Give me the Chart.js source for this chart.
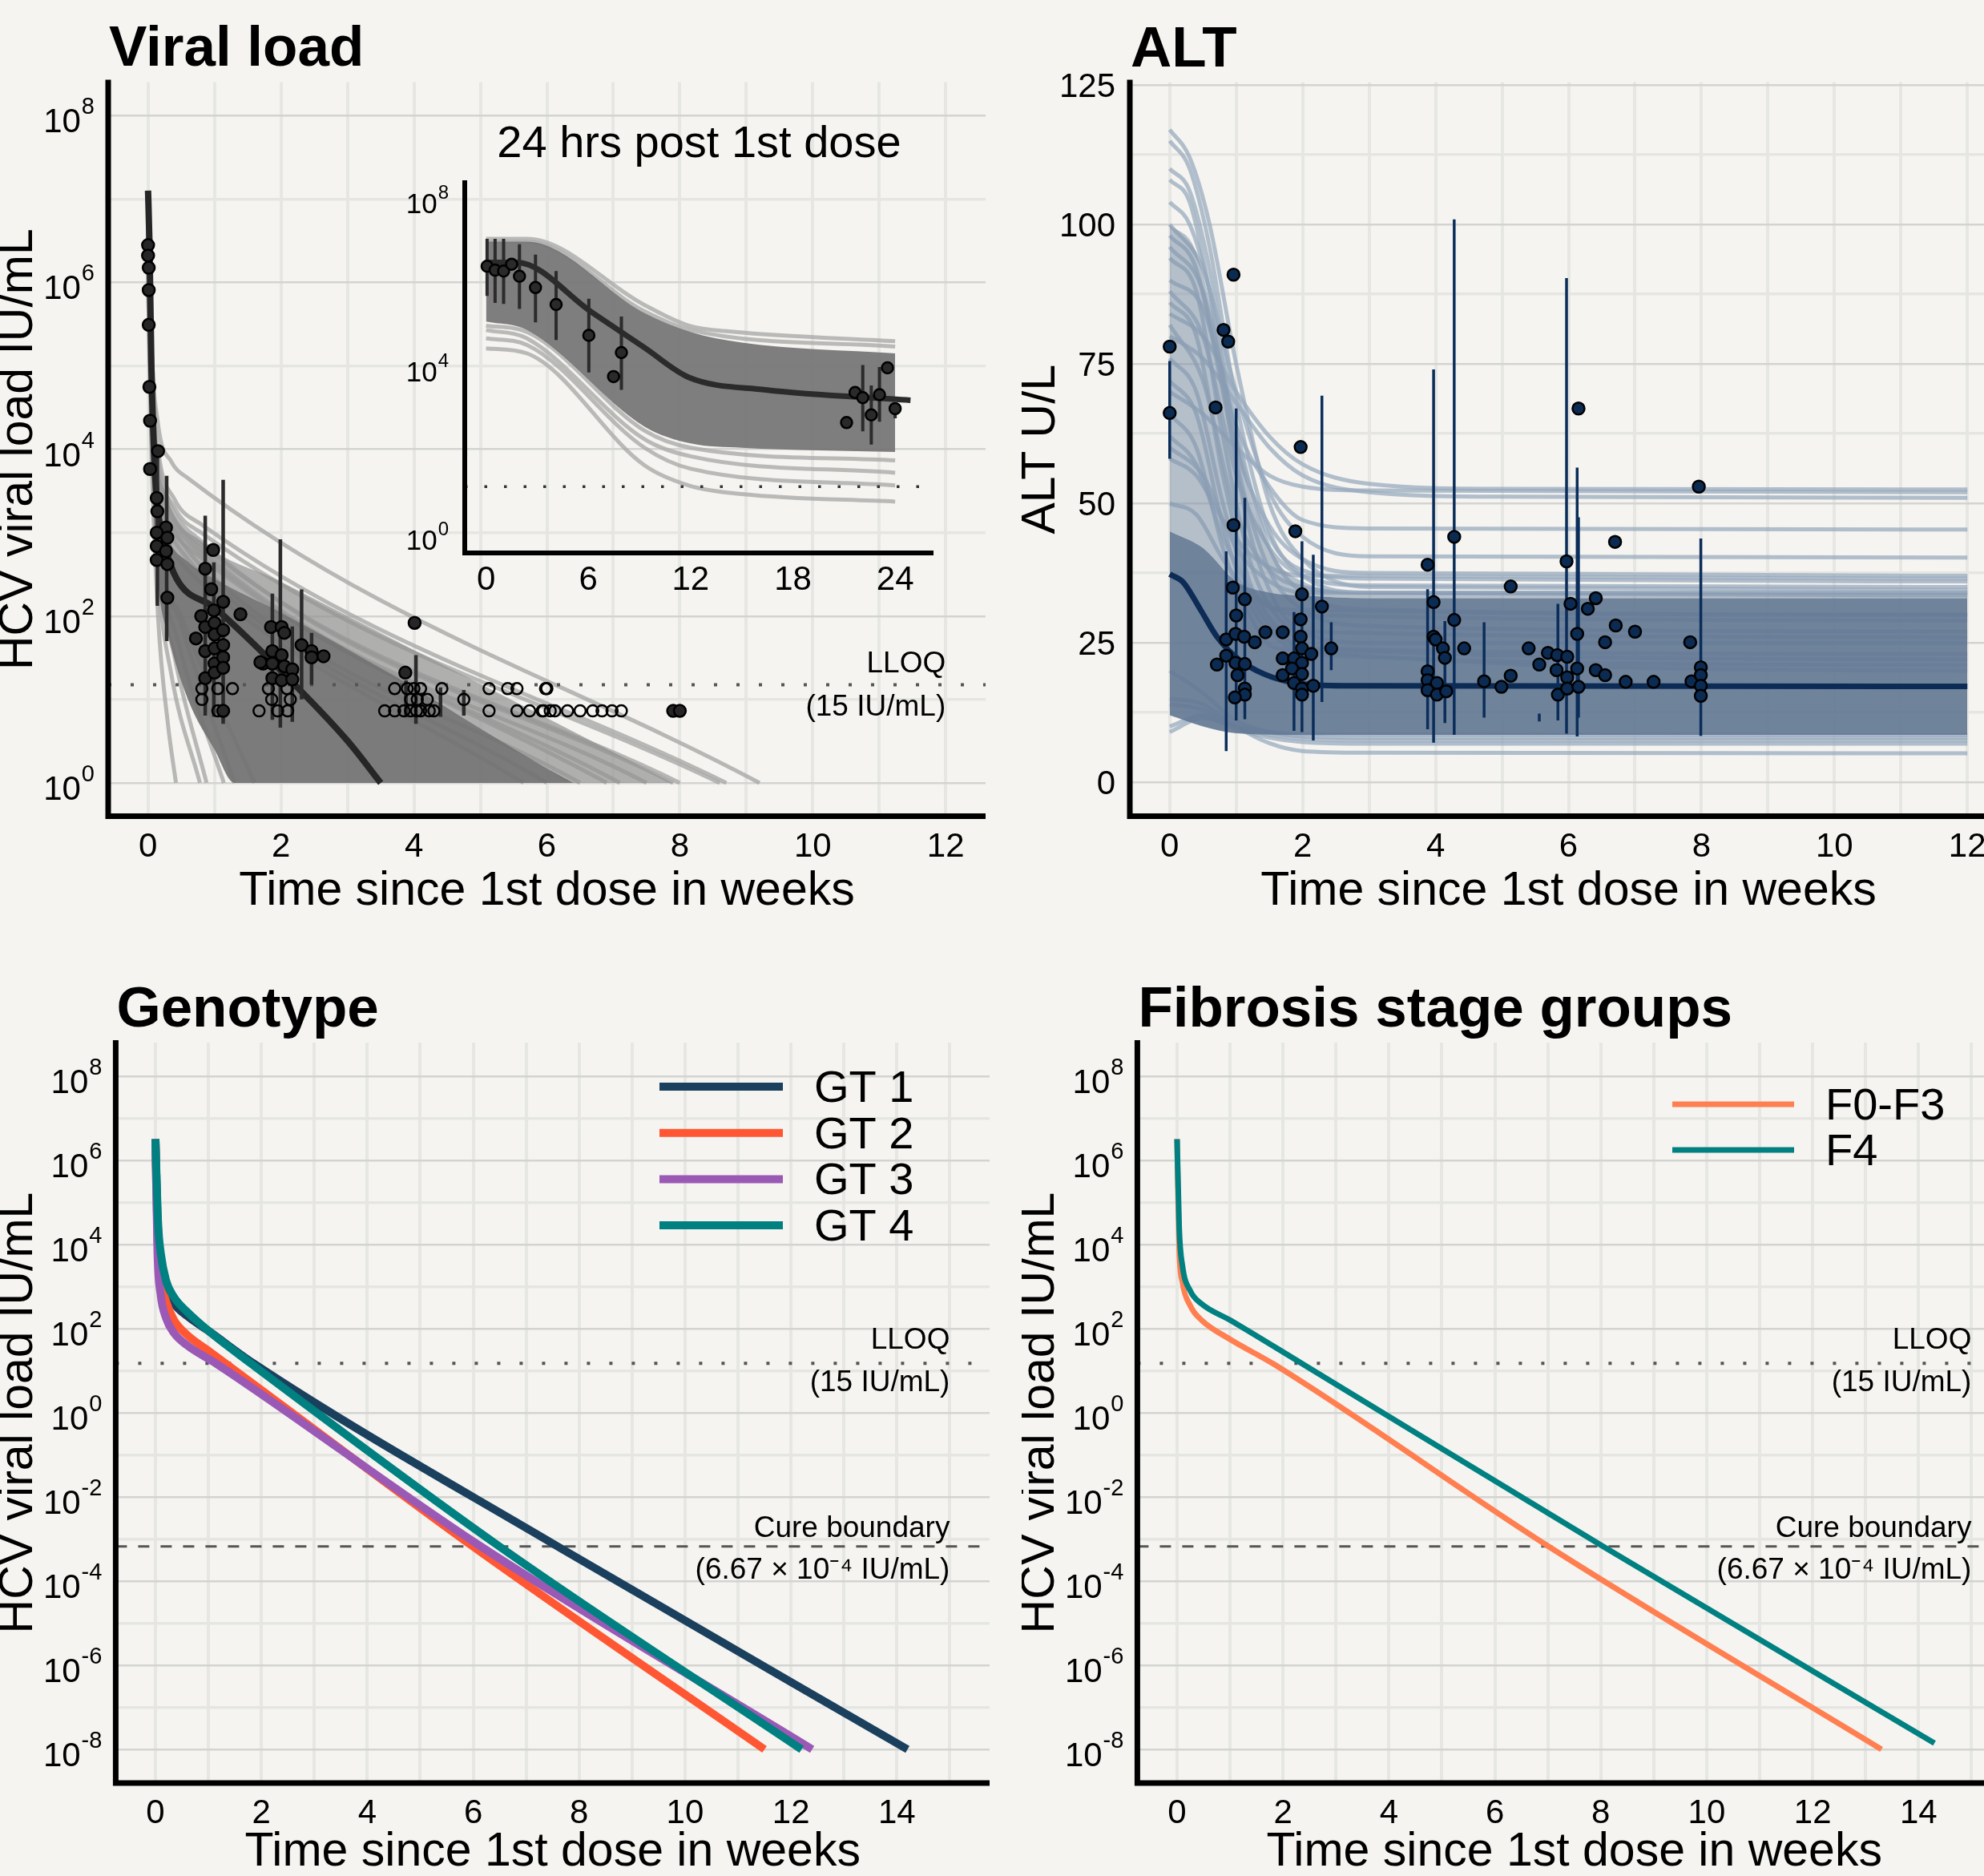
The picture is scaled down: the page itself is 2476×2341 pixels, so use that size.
<!DOCTYPE html>
<html>
<head>
<meta charset="utf-8">
<script src="https://cdn.jsdelivr.net/npm/chart.js@4.4.1/dist/chart.umd.min.js"></script>
<style>
  html, body { margin: 0; padding: 0; background: #f5f4f0; }
  #wrap { position: relative; width: 2476px; height: 2341px; overflow: hidden; background: #f5f4f0; }
  canvas { position: absolute; }
</style>
</head>
<body>
<div id="wrap">
  <canvas id="vl" width="1240" height="1180" style="left:0px;top:0px"></canvas>
  <canvas id="alt" width="1240" height="1180" style="left:1275px;top:0px"></canvas>
  <canvas id="gt" width="1240" height="1161" style="left:0px;top:1180px"></canvas>
  <canvas id="fib" width="1240" height="1161" style="left:1275px;top:1180px"></canvas>
  <canvas id="inset" width="700" height="640" style="left:500px;top:120px"></canvas>
</div>
<script>
"use strict";
const FONT = '"Liberation Sans", Arial, Helvetica, sans-serif';

// ---------- viral load panel (time in weeks, IU/mL) ----------
const vlDetT = [0.00, 0.00, 0.01, 0.01, 0.01, 0.02, 0.03, 0.15, 0.03, 0.13, 0.14, 0.27, 0.13, 0.29, 0.13, 0.27, 0.13, 0.29, 0.29,
  0.86, 0.98, 0.72, 0.80, 0.86, 0.86, 0.86, 0.95, 0.99, 1.00, 1.00, 1.00, 1.00, 1.00, 1.13, 1.13, 1.13, 1.13, 1.13, 1.39, 1.13,
  1.85, 2.01, 2.05, 1.87, 2.01, 1.73, 1.69, 1.87, 2.05, 2.17, 1.87, 2.01, 2.17, 2.31, 2.46, 2.46, 2.64,
  4.01, 3.87, 7.90, 8.00];
const vlDetV = [2.8e6, 2.1e6, 1.5e6, 8.1e5, 3.1e5, 5.6e4, 2.2e4, 9.5e3, 5.8e3, 2.6e3, 1.8e3, 1.15e3, 1.0e3, 870, 690, 600, 470, 420, 166,
  370, 620, 54, 100, 74, 38, 18, 210, 117, 83, 60, 41, 27, 21, 148, 68, 45, 32, 24, 105, 7.3,
  74, 74, 63, 38, 34, 27, 28, 27, 25, 23, 18, 17, 17.4, 45, 38, 32, 33,
  83, 21, 7.3, 7.3];
// below-LLOQ results (open circles), three reporting levels
const blqHigh = 13.5, blqMid = 10, blqLow = 7.3;
const blqHighT = [0.81, 1.05, 1.27, 1.81, 2.09, 3.71, 3.90, 4.00, 4.10, 4.42, 5.13, 5.41, 5.55, 5.98, 6.00];
const blqMidT = [0.81, 1.86, 2.14, 3.95, 4.05, 4.20, 4.75];
const blqLowT = [1.05, 1.67, 1.95, 2.10, 3.56, 3.71, 3.85, 3.95, 4.04, 4.10, 4.23, 4.30, 5.13, 5.55, 5.74, 5.93, 5.95,
  6.05, 6.12, 6.31, 6.50, 6.69, 6.83, 6.98, 7.12];
const vlErrT = [0.14, 0.28, 0.86, 0.99, 1.13, 1.87, 1.99, 2.17, 2.31, 2.46, 3.88, 4.03, 4.40, 4.75];
const vlErrLo = [133, 50, 6.4, 6.2, 5.1, 5.7, 4.6, 5.4, 10, 15, 6.2, 5.1, 6.2, 6.4];
const vlErrHi = [8.9e3, 4.8e3, 1.6e3, 440, 4.3e3, 186, 830, 75, 209, 63, 17, 34, 14, 13];
const vlMedian = [[0, 1.26e7], [0.02, 3.2e6], [0.05, 1e5], [0.1, 6.3e3], [0.15, 1.8e3], [0.25, 710], [0.43, 280],
  [1, 126], [2, 22], [3, 3.2], [3.5, 1]];
// dense core of the individual predictions
const vlCoreUpper = [[0, 1e7], [0.03, 3e5], [0.08, 1.5e4], [0.15, 3e3], [0.3, 900], [0.6, 450], [1, 280], [2, 110],
  [3, 40], [4, 14], [5, 4.5], [6, 1.5], [6.4, 1]];
const vlCoreLower = [[0, 3.2e6], [0.03, 3.2e4], [0.08, 2e3], [0.15, 250], [0.3, 60], [0.6, 10], [1, 2.5], [1.3, 1], [6.4, 1]];
// looser fringe above the core
const vlFringeUpper = [[0, 1e7], [0.05, 1e5], [0.1, 1.6e4], [0.3, 2.5e3], [0.8, 790], [2, 257], [4, 39], [6, 6], [7.9, 1]];
const vlFringeLower = [[0, 1e7], [0.03, 3e5], [0.08, 1.5e4], [0.15, 3e3], [0.3, 900], [0.6, 450], [1, 280], [2, 110],
  [3, 40], [4, 14], [5, 4.5], [6, 1.5], [6.4, 1], [7.9, 1]];
const vlLines = [
  [[0, 1e7], [0.05, 2e5], [0.15, 2e4], [0.35, 7.1e3], [0.6, 4.5e3], [9.2, 1]],
  [[0, 1e7], [0.05, 1e5], [0.15, 1e4], [0.4, 2.5e3], [0.8, 1.26e3], [8.7, 1]],
  [[0, 7.9e6], [0.05, 7.9e4], [0.15, 7.9e3], [0.4, 2e3], [0.8, 1e3], [8.6, 1]],
  [[0, 6.3e6], [0.1, 1.6e4], [0.3, 2.5e3], [0.8, 790], [7.9, 1]],
  [[0, 6.3e6], [0.1, 1.26e4], [0.3, 2e3], [0.8, 710], [8.0, 1]],
  [[0, 5e6], [0.1, 1e4], [0.3, 2e3], [0.8, 630], [7.5, 1]],
  [[0, 5e6], [0.1, 7.9e3], [0.3, 1.6e3], [0.8, 560], [7.1, 1]],
  [[0, 4e6], [0.1, 6.3e3], [0.3, 1.26e3], [0.8, 500], [6.9, 1]],
  [[0, 4e6], [0.1, 6.3e3], [0.3, 1.4e3], [0.8, 400], [6.5, 1]],
  [[0, 3.2e6], [0.1, 4e3], [0.3, 1e3], [0.8, 320], [6.0, 1]],
  [[0, 3.2e6], [0.1, 3e3], [0.3, 700], [0.8, 250], [5.65, 1]],
  [[0, 1e6], [0.05, 1e4], [0.15, 100], [0.3, 5], [0.42, 1]],
  [[0, 1e6], [0.05, 1.6e4], [0.15, 320], [0.35, 20], [0.78, 1]],
  [[0, 1.6e6], [0.05, 2e4], [0.15, 500], [0.4, 32], [0.88, 1]],
  [[0, 1.6e6], [0.05, 2.5e4], [0.15, 790], [0.45, 50], [1.14, 1]],
  [[0, 2e6], [0.05, 3.2e4], [0.15, 1e3], [0.5, 79], [1.3, 1]],
  [[0, 2e6], [0.05, 3.2e4], [0.15, 1e3], [0.5, 100], [1.6, 1]]
];
const lloq = 15;
const cureBoundary = 6.67e-4;

// ---------- inset: first 24 hours (time in hours) ----------
const inT = [0.06, 0.53, 1.03, 1.5, 1.96, 2.9, 4.11, 6.03, 7.48, 7.94, 21.15, 21.65, 22.1, 22.6, 23.08, 23.55, 24.0];
const inV = [2.6e6, 2.1e6, 2.0e6, 2.9e6, 1.5e6, 8.1e5, 3.2e5, 5.9e4, 6.2e3, 2.3e4, 500, 2.6e3, 1.95e3, 760, 2.3e3, 1.0e4, 1.07e3];
const inErrT = [0.06, 0.53, 1.03, 1.96, 2.9, 4.11, 6.03, 7.94, 22.1, 22.6, 23.08, 24.0];
const inErrLo = [5.1e5, 3.5e5, 3.3e5, 2.5e5, 1.2e5, 4.6e4, 7.8e3, 3.0e3, 310, 150, 525, 630];
const inErrHi = [1.17e7, 1.17e7, 1.17e7, 8.7e6, 4.9e6, 2.0e6, 4.4e5, 1.66e5, 1.17e4, 3.8e3, 1.05e4, 1.4e3];
const inMedian = [[0, 3.2e6], [1.8, 3.2e6], [6.2, 2.1e5], [9.3, 3e4], [11.9, 5.9e3], [16.4, 3e3], [24.9, 1.7e3]];
const inBandUpper = [[0, 1e7], [2.4, 1e7], [9.3, 2e5], [12, 7.1e4], [15, 4e4], [24, 2.2e4]];
const inBandLower = [[0, 1.26e5], [2.4, 7.9e4], [9.3, 400], [12, 160], [15, 126], [24, 100]];
const inLines = [
  [[0, 1.17e7], [2.4, 1.17e7], [9.3, 3.1e5], [11.9, 1e5], [14.5, 7.2e4], [24, 4.3e4]],
  [[0, 1e7], [2.4, 1e7], [9.3, 2.2e5], [12, 7.9e4], [24, 3.2e4]],
  [[0, 2.9e4], [2.4, 2.2e4], [9.3, 48], [11.9, 16], [15, 10], [24, 6.6]],
  [[0, 5e4], [2.4, 3.5e4], [9.3, 126], [12, 40], [24, 16]],
  [[0, 7.9e4], [2.4, 5e4], [9.3, 200], [12, 79], [24, 32]],
  [[0, 1e5], [2.4, 7.1e4], [9.3, 320], [12, 126], [24, 63]]
];

// ---------- ALT panel (time in weeks, U/L) ----------
const altT = [0, 0, 0.69, 0.81, 0.88, 0.96, 0.96, 0.95, 1.0, 0.85, 0.99, 1.12, 1.13, 1.28, 1.44, 0.71, 0.85, 0.99, 1.13, 1.02, 1.13, 1.13, 0.98,
  1.70, 1.70, 1.70, 1.89, 1.97, 1.99, 1.97, 1.97, 1.99, 1.87, 1.99, 1.84, 1.99, 1.87, 1.99, 1.99, 2.13, 2.16, 2.29, 2.43,
  3.88, 3.97, 3.97, 4.0, 3.88, 3.88, 3.97, 4.02, 3.88, 4.02, 4.11, 4.14, 4.16, 4.28, 4.28, 4.43, 4.73, 4.99, 5.13, 5.13,
  5.4, 5.56, 5.69, 5.83, 5.82, 5.84, 5.97, 5.98, 5.98, 5.98, 6.03, 6.13, 6.13, 6.15, 6.15, 6.29, 6.41, 6.41, 6.55, 6.55, 6.70, 6.71, 6.86, 7.0, 7.28,
  7.83, 7.85, 7.96, 7.99, 7.99, 7.99, 7.99];
const altV = [78.1, 66.2, 67.2, 81.1, 79.0, 91.0, 46.1, 34.9, 29.9, 25.6, 26.6, 26.1, 32.8, 25.1, 26.9, 21.1, 22.7, 21.4, 21.2, 19.2, 16.8, 15.7, 15.2,
  26.9, 22.2, 19.2, 45.0, 60.1, 33.7, 29.2, 26.1, 24.0, 22.2, 21.4, 20.4, 19.4, 17.8, 16.8, 15.7, 23.0, 17.3, 31.5, 24.0,
  39.0, 32.3, 26.1, 25.6, 19.9, 18.3, 16.8, 17.8, 16.5, 15.7, 24.0, 22.3, 16.3, 44.0, 29.1, 24.0, 18.1, 17.1, 19.1, 35.1,
  24.0, 21.1, 23.2, 22.8, 20.1, 15.7, 39.6, 22.5, 18.8, 16.8, 32.0, 26.6, 20.4, 17.1, 67.0, 31.1, 33.0, 20.1, 25.1, 19.2, 43.1, 28.1, 18.0, 27.0, 18.0,
  25.1, 18.1, 53.0, 20.6, 19.2, 17.3, 15.5];
const altErrT = [0, 0.85, 1.0, 1.13, 1.87, 1.99, 2.16, 2.29, 2.43, 3.88, 3.97, 4.14, 4.28, 4.73, 5.56, 5.84, 5.97, 6.13, 6.15, 7.99];
const altErrLo = [58, 5.6, 11.1, 11.3, 9.2, 9.0, 7.5, 14.4, 20.1, 9.5, 7.1, 10.6, 8.5, 11.6, 10.9, 11.1, 8.7, 8.2, 11.6, 8.3];
const altErrHi = [75.5, 41.4, 67, 51, 30.5, 43.2, 40.8, 69.3, 28.7, 34.6, 74, 28.9, 100.9, 28.7, 12.3, 32, 90.4, 56.4, 47.5, 43.7];
const altMedian = [[0, 37.3], [0.2, 35.9], [0.47, 30.8], [0.71, 26.1], [1.04, 22], [1.42, 19.4], [1.89, 17.8], [2.65, 17.3], [12, 17.2]];
const altCoreUpper = [[0, 45], [0.5, 42], [1, 36], [1.5, 34], [2, 33.5], [3, 33], [12, 33]];
const altCoreLower = [[0, 12], [0.5, 10], [1, 8.8], [2, 8.5], [12, 8.5]];
const altFringeUpper = [[0, 100], [0.4, 95], [0.8, 75], [1.2, 52], [1.6, 40], [2, 36], [3, 34], [12, 34]];
const altFringeLower = [[0, 45], [0.5, 42], [1, 36], [1.5, 34], [2, 33.5], [3, 33], [12, 33]];
const altLines = [
  [[0, 117], [0.3, 112], [0.6, 100], [1, 75], [1.5, 50], [2, 40], [3, 35], [12, 34.5]],
  [[0, 115], [0.3, 110], [0.6, 96], [1, 68], [1.5, 45], [2, 37], [3, 34], [12, 34]],
  [[0, 110], [0.3, 106], [0.6, 92], [1, 64], [1.5, 42], [2, 34], [3, 31], [12, 30]],
  [[0, 108], [0.3, 104], [0.6, 88], [1, 58], [1.5, 38], [2, 31], [3, 28], [12, 27]],
  [[0, 104], [0.3, 100], [0.6, 88], [1, 62], [1.5, 44], [2, 38], [3, 36.5], [12, 36]],
  [[0, 100], [0.5, 92], [1, 70], [1.5, 52], [2, 44], [3, 40.5], [12, 40.3]],
  [[0, 98], [0.4, 92], [0.8, 70], [1.2, 45], [1.6, 32], [2, 27], [3, 25], [12, 25]],
  [[0, 96], [0.5, 88], [1, 60], [1.5, 46], [2, 40], [3, 37.5], [12, 37]],
  [[0, 94], [0.4, 88], [0.8, 62], [1.2, 40], [1.6, 30], [2, 27], [12, 26]],
  [[0, 90], [0.5, 85], [1, 64], [1.5, 53], [2, 47], [3, 45.5], [12, 45.3]],
  [[0, 88], [0.5, 80], [1, 55], [1.5, 42], [2, 37], [3, 35.3], [12, 35]],
  [[0, 86], [0.4, 80], [0.8, 55], [1.2, 36], [1.6, 28], [2, 24], [12, 23]],
  [[0, 84], [0.5, 80], [1, 70], [1.5, 62], [2, 57], [3, 53.5], [5, 52.6], [12, 52.5]],
  [[0, 82], [0.5, 72], [1, 48], [1.5, 38], [2, 35], [3, 34], [12, 34]],
  [[0, 80], [0.5, 76], [1, 68], [1.5, 60], [2, 55], [3, 52], [5, 51.2], [12, 51]],
  [[0, 76], [0.4, 70], [0.8, 50], [1.2, 34], [1.6, 27], [2, 24], [12, 22]],
  [[0, 72], [0.4, 66], [0.8, 46], [1.2, 32], [1.6, 26], [2, 23], [12, 21]],
  [[0, 70], [0.5, 66], [1, 60], [1.5, 55], [2, 53], [3, 52.3], [12, 52]],
  [[0, 66], [0.4, 60], [0.8, 42], [1.2, 30], [1.6, 24], [12, 20]],
  [[0, 62], [0.4, 57], [0.8, 44], [1.2, 35], [1.6, 31], [2, 30], [12, 29]],
  [[0, 60], [0.5, 55], [1, 42], [1.5, 36], [2, 34], [12, 33.5]],
  [[0, 58], [0.4, 55], [0.8, 47], [1.2, 41], [1.6, 38], [2, 37], [12, 36.5]],
  [[0, 50], [0.4, 48], [0.8, 40], [1.2, 34], [1.6, 31], [12, 30]],
  [[0, 15], [0.5, 14], [1, 10], [1.5, 7], [2, 5.6], [3, 5.3], [12, 5.2]],
  [[0, 10], [0.5, 12], [1, 9.5], [2, 7.2], [3, 6.9], [12, 6.9]],
  [[0, 9], [0.5, 11.5], [1, 10], [2, 8.2], [3, 8], [12, 8]],
  [[0, 14], [0.5, 13], [1, 10], [2, 7.8], [3, 7.5], [12, 7.5]],
  [[0, 20], [0.5, 16], [1, 11], [2, 8.6], [12, 8.5]]
];

// ---------- genotype / fibrosis typical profiles (weeks, IU/mL) ----------
const gt1 = [[0, 3.2e6], [0.04, 4.0e4], [0.1, 4.0e3], [0.2, 1.0e3], [0.35, 400], [0.6, 200], [1, 89], [1.85, 15], [7.6, 6.6e-4], [14.2, 1e-8]];
const gt2 = [[0, 3.2e6], [0.04, 1.26e4], [0.1, 1.6e3], [0.2, 450], [0.35, 160], [0.6, 71], [1, 30], [2, 3.5], [6.0, 6.6e-4], [11.5, 1e-8]];
const gt3 = [[0, 3.2e6], [0.04, 6.3e3], [0.1, 630], [0.2, 180], [0.35, 79], [0.6, 40], [1.14, 15], [6.15, 6.6e-4], [12.4, 1e-8]];
const gt4 = [[0, 3.2e6], [0.05, 3.2e4], [0.1, 6.3e3], [0.2, 1.4e3], [0.35, 560], [0.6, 250], [1, 89], [1.8, 15], [6.5, 6.6e-4], [12.2, 1e-8]];
const fibF0F3 = [[0, 3.2e6], [0.04, 7.9e3], [0.1, 1.3e3], [0.25, 350], [0.46, 160], [1, 56], [1.84, 14], [7.02, 6.6e-4], [13.3, 1e-8]];
const fibF4 = [[0, 3.2e6], [0.04, 2.5e4], [0.1, 3.2e3], [0.25, 790], [0.46, 390], [1, 160], [2.35, 15], [8.05, 6.6e-4], [14.3, 1.4e-8]];
const gtNames = ["GT 1", "GT 2", "GT 3", "GT 4"];
const gtColors = ["#1a405e", "#ff5733", "#9b59b6", "#008080"];
const fibNames = ["F0-F3", "F4"];
const fibColors = ["#ff7f50", "#008080"];

// ---------- ticks ----------
const weeks12 = [0, 1, 2, 3, 4, 5, 6, 7, 8, 9, 10, 11, 12];
const weeks15 = [0, 1, 2, 3, 4, 5, 6, 7, 8, 9, 10, 11, 12, 13, 14, 15];
const vlDecades = [1, 10, 100, 1e3, 1e4, 1e5, 1e6, 1e7, 1e8];
const gtDecades = [1e-8, 1e-7, 1e-6, 1e-5, 1e-4, 1e-3, 1e-2, 1e-1, 1, 10, 100, 1e3, 1e4, 1e5, 1e6, 1e7, 1e8];
const altTicks = [0, 12.5, 25, 37.5, 50, 62.5, 75, 87.5, 100, 112.5, 125];
const vlExpLabels = [0, 2, 4, 6, 8];
const insetExpLabels = [0, 4, 8];
const gtExpLabels = [-8, -6, -4, -2, 0, 2, 4, 6, 8];
const altLabels = [0, 25, 50, 75, 100, 125];
const weekLabels12 = [0, 2, 4, 6, 8, 10, 12];
const weekLabels14 = [0, 2, 4, 6, 8, 10, 12, 14];
const hourLabels = [0, 6, 12, 18, 24];

// ---------- dataset helpers ----------
const pts = arr => arr.map(p => ({ x: p[0], y: p[1] }));
const zipPts = (xs, ys) => xs.map((x, i) => ({ x: x, y: ys[i] }));
const rowPts = (xs, v) => xs.map(x => ({ x: x, y: v }));
const errPts = (t, lo, hi) => {
  const d = [];
  t.forEach((x, i) => { d.push({ x: x, y: lo[i] }, { x: x, y: hi[i] }, { x: x, y: null }); });
  return d;
};

function curve(data, color, width, order) {
  return { data: pts(data), borderColor: color, borderWidth: width, pointRadius: 0, fill: false,
    cubicInterpolationMode: "monotone", order: order };
}
function band(upper, lower, color, order) {
  return [
    { data: pts(upper), borderColor: "rgba(0,0,0,0)", borderWidth: 1, backgroundColor: color, fill: "+1",
      pointRadius: 0, cubicInterpolationMode: "monotone", order: order },
    { data: pts(lower), borderColor: "rgba(0,0,0,0)", borderWidth: 1, pointRadius: 0, fill: false,
      cubicInterpolationMode: "monotone", order: order }
  ];
}
function hline(x0, x1, v, color, width, dash, order) {
  return { data: [{ x: x0, y: v }, { x: x1, y: v }], borderColor: color, borderWidth: width, borderDash: dash,
    pointRadius: 0, fill: false, order: order };
}
function errs(data, color, width, order) {
  return { data: data, borderColor: color, borderWidth: width, pointRadius: 0, fill: false, tension: 0, spanGaps: false, order: order };
}
function dots(data, fillColor, edge, r, order) {
  return { data: data, showLine: false, pointRadius: r, pointBackgroundColor: fillColor, pointBorderColor: edge,
    pointBorderWidth: 2.5, order: order };
}

// ---------- text, tick labels, axis lines ----------
const decorCfg = {};
const decor = {
  id: "decor",
  afterDraw(chart) {
    const o = decorCfg[chart.canvas.id];
    if (!o) return;
    const ctx = chart.ctx, a = chart.chartArea;
    const xs = chart.scales.x, ys = chart.scales.y;
    const f = (size, bold) => (bold ? "bold " : "") + size + "px " + FONT;
    ctx.save();
    ctx.fillStyle = "#000";
    ctx.textBaseline = "alphabetic";

    ctx.strokeStyle = "#000";
    ctx.lineWidth = o.axisW;
    ctx.lineJoin = "miter";
    ctx.lineCap = "butt";
    ctx.beginPath();
    ctx.moveTo(a.left, a.top - 3);
    ctx.lineTo(a.left, a.bottom);
    ctx.lineTo(a.right, a.bottom);
    ctx.stroke();

    ctx.font = f(o.xSize);
    ctx.textAlign = "center";
    o.xLabels.forEach(v => ctx.fillText(String(v), xs.getPixelForValue(v), a.bottom + o.xDy));

    ctx.textAlign = "right";
    const right = a.left - o.yGap;
    o.yLabels.forEach(v => {
      if (o.yLog) {
        const y = ys.getPixelForValue(Math.pow(10, v));
        const sup = String(v);
        ctx.font = f(o.supSize);
        const w = ctx.measureText(sup).width;
        ctx.fillText(sup, right, y + o.supDy);
        ctx.font = f(o.ySize);
        ctx.fillText("10", right - w - 1, y + o.baseDy);
      } else {
        const y = ys.getPixelForValue(v);
        ctx.font = f(o.ySize);
        ctx.fillText(String(v), right, y + o.baseDy);
      }
    });

    if (o.title) {
      ctx.font = f(o.titleSize, o.titleBold);
      ctx.textAlign = o.titleAlign || "left";
      const tx = o.titleAlign === "center" ? (a.left + a.right) / 2 : a.left + 1;
      ctx.fillText(o.title, tx, o.titleY);
    }
    if (o.xTitle) {
      ctx.font = f(o.axisSize);
      ctx.textAlign = "center";
      ctx.fillText(o.xTitle, (a.left + a.right) / 2, a.bottom + o.xTitleDy);
    }
    if (o.yTitle) {
      ctx.save();
      ctx.translate(o.yTitleX, (a.top + a.bottom) / 2);
      ctx.rotate(-Math.PI / 2);
      ctx.font = f(o.axisSize);
      ctx.textAlign = "center";
      ctx.fillText(o.yTitle, 0, 0);
      ctx.restore();
    }
    (o.notes || []).forEach(n => {
      ctx.font = f(n.size);
      ctx.textAlign = "right";
      ctx.fillText(n.text, xs.getPixelForValue(n.x), ys.getPixelForValue(n.y) + n.dy);
    });
    if (o.legend) {
      const L = o.legend;
      L.names.forEach((name, i) => {
        const y = L.y + i * L.step;
        ctx.strokeStyle = L.colors[i];
        ctx.lineWidth = L.width;
        ctx.beginPath();
        ctx.moveTo(L.x0, y);
        ctx.lineTo(L.x1, y);
        ctx.stroke();
        ctx.font = f(L.size);
        ctx.textAlign = "left";
        ctx.fillText(name, L.tx, y + L.dy);
      });
    }
    ctx.restore();
  }
};
Chart.register(decor);

const isEvenDecade = v => Math.abs(Math.round(Math.log10(v))) % 2 === 0;

function makeChart(id, datasets, c) {
  const xGrid = c.grid ? { drawTicks: false, color: "#e6e6e3", lineWidth: 4 } : { display: false };
  const yGrid = c.grid ? {
    drawTicks: false,
    color: g => (g.tick && c.yMajor(g.tick.value)) ? "#d3d3d1" : "#e5e5e2",
    lineWidth: g => (g.tick && c.yMajor(g.tick.value)) ? 2.5 : 3.5
  } : { display: false };
  return new Chart(document.getElementById(id), {
    type: "line",
    data: { datasets: datasets },
    options: {
      responsive: false, animation: false, devicePixelRatio: 1, events: [],
      layout: { padding: c.pad },
      plugins: { legend: { display: false }, tooltip: { enabled: false } },
      scales: {
        x: {
          type: "linear", min: c.xMin, max: c.xMax,
          afterBuildTicks: s => { s.ticks = c.xTicks.map(v => ({ value: v })); },
          afterFit: s => { s.height = 0; },
          ticks: { display: false, autoSkip: false },
          border: { display: false },
          grid: xGrid
        },
        y: {
          type: c.yLog ? "logarithmic" : "linear", min: c.yMin, max: c.yMax,
          afterBuildTicks: s => { s.ticks = c.yTicks.map(v => ({ value: v })); },
          afterFit: s => { s.width = 0; },
          ticks: { display: false, autoSkip: false },
          border: { display: false },
          grid: yGrid
        }
      }
    }
  });
}

// ---------- panel: viral load ----------
const padTop = { left: 135, top: 102.6, right: 5.4, bottom: 161.4 };
const padBottom = { left: 144.4, top: 121, right: 5, bottom: 116 };

decorCfg.vl = {
  axisW: 7, xLabels: weekLabels12, xSize: 42, xDy: 50,
  yLabels: vlExpLabels, yLog: true, ySize: 42, supSize: 29, yGap: 17, baseDy: 21, supDy: -2,
  title: "Viral load", titleSize: 71, titleBold: true, titleY: 82,
  xTitle: "Time since 1st dose in weeks", xTitleDy: 110, axisSize: 59,
  yTitle: "HCV viral load IU/mL", yTitleX: 40,
  notes: [
    { text: "LLOQ", x: 12, y: lloq, dy: -16, size: 37 },
    { text: "(15 IU/mL)", x: 12, y: lloq, dy: 38, size: 37 }
  ]
};
makeChart("vl", [
  dots(zipPts(vlDetT, vlDetV), "#262626", "#000", 7.5, 0),
  dots([...rowPts(blqHighT, blqHigh), ...rowPts(blqMidT, blqMid), ...rowPts(blqLowT, blqLow)], "rgba(0,0,0,0)", "#000", 7, 0),
  errs(errPts(vlErrT, vlErrLo, vlErrHi), "#2b2b2b", 4.5, 1),
  hline(-0.6, 12.6, lloq, "#555", 4, [4, 24], 2),
  curve(vlMedian, "#262626", 8, 3),
  ...band(vlCoreUpper, vlCoreLower, "rgba(115,115,115,0.94)", 4),
  ...band(vlFringeUpper, vlFringeLower, "rgba(145,145,145,0.7)", 5),
  ...vlLines.map(l => curve(l, "rgba(165,165,165,0.78)", 5, 6))
], { pad: padTop, xMin: -0.6, xMax: 12.6, xTicks: weeks12, yLog: true, yMin: 10 ** -0.4, yMax: 10 ** 8.4,
     yTicks: vlDecades, yMajor: isEvenDecade, grid: true });

// ---------- inset: 24 hours ----------
decorCfg.inset = {
  axisW: 6, xLabels: hourLabels, xSize: 42, xDy: 46,
  yLabels: insetExpLabels, yLog: true, ySize: 35, supSize: 24, yGap: 20, baseDy: 17, supDy: -1,
  title: "24 hrs post 1st dose", titleSize: 56, titleBold: false, titleAlign: "center", titleY: 76
};
makeChart("inset", [
  dots(zipPts(inT, inV), "#2a2a2a", "#000", 7, 0),
  errs(errPts(inErrT, inErrLo, inErrHi), "#2b2b2b", 4, 1),
  hline(-1.25, 26.25, lloq, "#333", 3.5, [3.5, 21], 2),
  curve(inMedian, "#2b2b2b", 7, 3),
  ...band(inBandUpper, inBandLower, "rgba(118,118,118,0.94)", 4),
  ...inLines.map(l => curve(l, "rgba(170,170,170,0.8)", 5, 5))
], { pad: { left: 80, top: 108, right: 35, bottom: 70 }, xMin: -1.25, xMax: 26.25, xTicks: hourLabels,
     yLog: true, yMin: 10 ** -0.4, yMax: 10 ** 8.4, yTicks: vlDecades, yMajor: isEvenDecade, grid: false });

// ---------- panel: ALT ----------
decorCfg.alt = {
  axisW: 7, xLabels: weekLabels12, xSize: 42, xDy: 50,
  yLabels: altLabels, yLog: false, ySize: 42, yGap: 18, baseDy: 15,
  title: "ALT", titleSize: 71, titleBold: true, titleY: 83,
  xTitle: "Time since 1st dose in weeks", xTitleDy: 110, axisSize: 59,
  yTitle: "ALT U/L", yTitleX: 41
};
makeChart("alt", [
  dots(zipPts(altT, altV), "#0b2b52", "#000", 7.5, 0),
  errs(errPts(altErrT, altErrLo, altErrHi), "#0b2d5a", 3.5, 1),
  curve(altMedian, "#0c2c55", 7, 2),
  ...band(altCoreUpper, altCoreLower, "rgba(100,122,148,0.93)", 3),
  ...band(altFringeUpper, altFringeLower, "rgba(128,148,172,0.55)", 4),
  ...altLines.map(l => curve(l, "rgba(150,168,188,0.72)", 5, 5))
], { pad: padTop, xMin: -0.6, xMax: 12.6, xTicks: weeks12, yLog: false, yMin: -6.1, yMax: 125.5,
     yTicks: altTicks, yMajor: v => v % 25 === 0, grid: true });

// ---------- panels: genotype and fibrosis ----------
const cureNotes = [
  { text: "LLOQ", x: 15, y: lloq, dy: -18, size: 37 },
  { text: "(15 IU/mL)", x: 15, y: lloq, dy: 35, size: 37 },
  { text: "Cure boundary", x: 15, y: cureBoundary, dy: -12, size: 37 },
  { text: "(6.67 \u00d7 10\u207b\u2074 IU/mL)", x: 15, y: cureBoundary, dy: 40, size: 37 }
];
const bottomScale = { pad: padBottom, xMin: -0.75, xMax: 15.75, xTicks: weeks15, yLog: true,
  yMin: 10 ** -8.8, yMax: 10 ** 8.8, yTicks: gtDecades, yMajor: isEvenDecade, grid: true };

decorCfg.gt = {
  axisW: 7, xLabels: weekLabels14, xSize: 42, xDy: 50,
  yLabels: gtExpLabels, yLog: true, ySize: 42, supSize: 29, yGap: 17, baseDy: 21, supDy: -2,
  title: "Genotype", titleSize: 71, titleBold: true, titleY: 101,
  xTitle: "Time since 1st dose in weeks", xTitleDy: 103, axisSize: 59,
  yTitle: "HCV viral load IU/mL", yTitleX: 40,
  notes: cureNotes,
  legend: { names: gtNames, colors: gtColors, x0: 823, x1: 977, y: 176, step: 57.7, width: 10, tx: 1016, dy: 19, size: 56 }
};
makeChart("gt", [
  curve(gt4, gtColors[3], 10, 0),
  curve(gt3, gtColors[2], 10, 1),
  curve(gt2, gtColors[1], 10, 2),
  curve(gt1, gtColors[0], 10, 3),
  hline(-0.75, 15.75, lloq, "#555", 4, [4, 24], 4),
  hline(-0.75, 15.75, cureBoundary, "#555", 3, [14, 14], 4)
], bottomScale);

decorCfg.fib = Object.assign({}, decorCfg.gt, {
  title: "Fibrosis stage groups",
  legend: { names: fibNames, colors: fibColors, x0: 812, x1: 964, y: 198, step: 57, width: 7, tx: 1003, dy: 19, size: 56 }
});
makeChart("fib", [
  curve(fibF4, fibColors[1], 7, 0),
  curve(fibF0F3, fibColors[0], 7, 1),
  hline(-0.75, 15.75, lloq, "#555", 4, [4, 24], 2),
  hline(-0.75, 15.75, cureBoundary, "#555", 3, [14, 14], 2)
], bottomScale);
</script>
</body>
</html>
